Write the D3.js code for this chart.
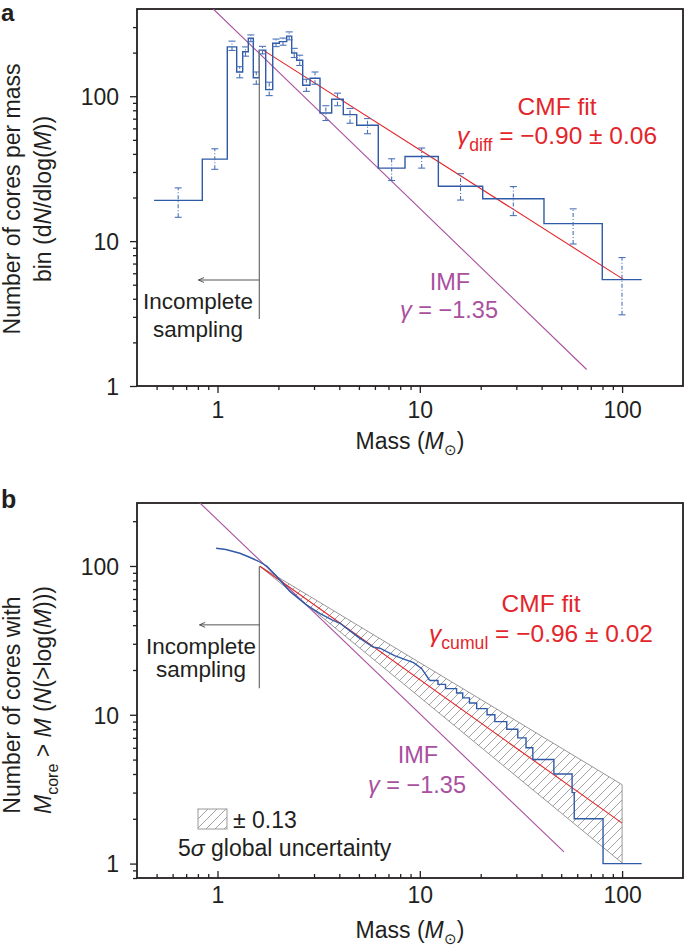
<!DOCTYPE html>
<html><head><meta charset="utf-8">
<script src="https://cdn.jsdelivr.net/npm/d3@7"></script>
<style>
body{margin:0;background:#fff;}
svg{display:block;font-family:"Liberation Sans",Arial,Helvetica,sans-serif;}
</style></head><body>
<svg id="chart" width="685" height="948"></svg>
<script>
// ---------- Panel a data : differential CMF histogram ----------
const massEdgesA = [0.486,0.841,1.118,1.244,1.332,1.420,1.503,1.609,1.731,1.875,2.021,2.198,2.327,2.464,2.637,2.866,3.211,3.668,4.185,4.876,6.234,8.451,12.35,20.46,41.1,79.8,125];
const countsA   = [19.1,36.8,219,147,203,251,134,208,111,232,238,260,199,177,119,133,76.6,95.3,74.7,63.0,31.9,38.4,23.9,19.6,13.2,5.42];
const errLowA   = [14.6,31.3,207,134,189,238,121,196,101,220,225,245,185,163,108,121,68,86,65.1,55.1,26.2,31.9,19.2,15.0,9.55,3.10];
const errHighA  = [23.3,43.4,240,160,219,265,147,221,125,248,252,278,214,192,131,147,86,105,82.3,70.1,37,43.9,29.2,23.8,16.7,7.70];
const fitMassA  = [1.68, 102];
const fitNA     = [208, 5.42];
const imfMassA  = [0.953, 66.8];
const imfNA     = [400, 1.30];
// ---------- Panel b data : cumulative CMF ----------
const cumMassB  = [0.985,1.10,1.29,1.45,1.585,1.75,1.95,2.28,2.76,3.2,3.68,4.03,5.0,5.88,6.35,7.5,9.31,10.2,11.2];
const cumNB     = [131.5,129,121.8,114,108,100,86,67.3,54.6,48,43.4,41.2,33,28.5,28,25,22.4,20.5,17];
const stepMassB = [11.2,12.3,13.4,15.2,16.3,17.6,19.1,21.5,23.5,26.9,30.5,33.5,36.2,46,56.6,58,80.5,125];
const stepNB    = [17,16,15,14,13,12,11,10,9,8,7,6,5,4,3,2,1,1];
const fitMassB  = [1.62, 100];
const fitNB     = [99.6, 1.87];
const bandUpperB = [99.6, 3.39];
const bandLowerB = [99.6, 1.01];
const imfMassB  = [0.819, 51.6];
const imfNB     = [265, 1.198];
// ---------- ticks ----------
const xTickLabels = [1, 10, 100];
const yTickLabels = [1, 10, 100];

const svg = d3.select("#chart");
const BLACK = "#231f20", RED = "#e3262b", PURPLE = "#a9509f", BLUE = "#2f5aa6", EBLUE = "#4b72b9";

const x = d3.scaleLog().domain([0.4, 200]).range([137, 683]);
const yA = d3.scaleLog().domain([1, 400]).range([386, 9]);
const yB = d3.scaleLog().domain([0.8, 265]).range([878, 503]);

const defs = svg.append("defs");
defs.append("clipPath").attr("id","clipA").append("rect").attr("x",137).attr("y",9).attr("width",546).attr("height",377);
defs.append("clipPath").attr("id","clipB").append("rect").attr("x",137).attr("y",503).attr("width",546).attr("height",375);
const pat = defs.append("pattern").attr("id","hatch").attr("patternUnits","userSpaceOnUse").attr("width",9).attr("height",9);
pat.append("path").attr("d","M-1,1 l2,-2 M0,9 l9,-9 M8,10 l2,-2").attr("stroke","#8c8c8c").attr("stroke-width",0.8);
defs.append("marker").attr("id","arrow").attr("viewBox","0 0 10 10").attr("refX",9).attr("refY",5)
  .attr("markerWidth",7).attr("markerHeight",7).attr("orient","auto")
  .append("path").attr("d","M1,1.5 L9,5 L1,8.5").attr("fill","none").attr("stroke","#444").attr("stroke-width",1.3);

function axes(y, x0, y0, y1, xInward, tickLabY, titleY) {
  const g = svg.append("g");
  const isMajor = d => xTickLabels.includes(d);
  const xt = x.ticks().filter(d => d > x.domain()[0] * 1.001 && d < x.domain()[1] * 0.999);
  const xa = d3.axisBottom(x).tickValues(xt).tickSizeOuter(0).tickFormat(d => isMajor(d) ? d3.format("d")(d) : "");
  const gx = g.append("g").attr("transform", `translate(0,${y0})`).call(xa);
  gx.select(".domain").remove();
  gx.selectAll(".tick line").attr("stroke", BLACK).attr("stroke-width", 1.3)
    .attr("y2", d => (isMajor(d) ? 7 : 4) * (xInward ? -1 : 1));
  gx.selectAll(".tick text").attr("y", tickLabY - y0).attr("dy", null).attr("fill", BLACK)
    .style("font-size", "23px").style("font-family", "Liberation Sans, Arial, sans-serif");
  const yt = y.ticks().filter(d => d >= y.domain()[0] * 0.999 && d < y.domain()[1] * 0.999);
  const ya = d3.axisLeft(y).tickValues(yt).tickSizeOuter(0).tickFormat(d => yTickLabels.includes(d) ? d3.format("d")(d) : "");
  const gy = g.append("g").attr("transform", `translate(${x0},0)`).call(ya);
  gy.select(".domain").remove();
  gy.selectAll(".tick line").attr("stroke", BLACK).attr("stroke-width", 1.3)
    .attr("x2", d => yTickLabels.includes(d) ? -7 : -4);
  gy.selectAll(".tick text").attr("x", -18).attr("dy", "0.36em").attr("fill", BLACK)
    .style("font-size", "23px").style("font-family", "Liberation Sans, Arial, sans-serif");
  g.append("rect").attr("x", x0).attr("y", y1).attr("width", x.range()[1] - x0).attr("height", y0 - y1)
    .attr("fill", "none").attr("stroke", BLACK).attr("stroke-width", 1.8);
  const t = g.append("text").attr("x", 410).attr("y", titleY).attr("text-anchor", "middle")
    .attr("fill", BLACK).style("font-size", "23px");
  t.append("tspan").text("Mass (");
  t.append("tspan").attr("font-style", "italic").text("M");
  t.append("tspan").attr("dy", 6).style("font-size", "15px").text("\u2299");
  t.append("tspan").attr("dy", -6).text(")");
}

// ================= Panel a =================
axes(yA, 137, 386, 9, false, 418, 449);
const pa = svg.append("g").attr("clip-path", "url(#clipA)");
const lineA = d3.line().x(d => x(d[0])).y(d => yA(d[1]));
pa.append("path").attr("d", lineA(imfMassA.map((m, i) => [m, imfNA[i]])))
  .attr("stroke", PURPLE).attr("stroke-width", 1.1).attr("fill", "none");
pa.append("path").attr("d", lineA(fitMassA.map((m, i) => [m, fitNA[i]])))
  .attr("stroke", RED).attr("stroke-width", 1.1).attr("fill", "none");
const histPts = countsA.map((n, i) => [massEdgesA[i], n]);
histPts.push([massEdgesA[massEdgesA.length - 1], countsA[countsA.length - 1]]);
pa.append("path").attr("d", d3.line().x(d => x(d[0])).y(d => yA(d[1])).curve(d3.curveStepAfter)(histPts))
  .attr("stroke", BLUE).attr("stroke-width", 1.4).attr("fill", "none");
const eb = pa.append("g").attr("stroke", EBLUE).attr("stroke-width", 1.1);
countsA.forEach((n, i) => {
  const xc = x(Math.sqrt(massEdgesA[i] * massEdgesA[i + 1]));
  eb.append("line").attr("x1", xc).attr("x2", xc).attr("y1", yA(errLowA[i])).attr("y2", yA(errHighA[i]))
    .attr("stroke-dasharray", "4,2,1,2");
  [errLowA[i], errHighA[i]].forEach(v => eb.append("line").attr("x1", xc - 3.5).attr("x2", xc + 3.5)
    .attr("y1", yA(v)).attr("y2", yA(v)));
});
svg.append("line").attr("x1", x(1.61)).attr("x2", x(1.61)).attr("y1", yA(208)).attr("y2", yA(2.9))
  .attr("stroke", "#777").attr("stroke-width", 1.3);
svg.append("line").attr("x1", x(1.61)).attr("x2", x(0.805)).attr("y1", yA(5.39)).attr("y2", yA(5.39))
  .attr("stroke", "#555").attr("stroke-width", 1).attr("marker-end", "url(#arrow)");
function txt(xp, yp, s, color, size) {
  return svg.append("text").attr("x", xp).attr("y", yp).attr("text-anchor", "middle")
    .attr("fill", color).style("font-size", size + "px").text(s);
}
txt(198, 309, "Incomplete", BLACK, 22.5);
txt(198, 337, "sampling", BLACK, 22.5);
txt(557, 115, "CMF fit", RED, 24.5);
function gammaLine(xp, yp, sub, val, color, size) {
  const t = svg.append("text").attr("x", xp).attr("y", yp).attr("text-anchor", "middle")
    .attr("fill", color).style("font-size", size + "px");
  t.append("tspan").attr("font-style", "italic").text("\u03b3");
  if (sub) {
    t.append("tspan").attr("dy", 7).style("font-size", (size * 0.72) + "px").text(sub);
    t.append("tspan").attr("dy", -7).text(" = " + val);
  } else t.append("tspan").text(" = " + val);
}
gammaLine(557, 144, "diff", "\u22120.90 \u00b1 0.06", RED, 24.5);
txt(450, 290, "IMF", PURPLE, 23.5);
gammaLine(449, 318, null, "\u22121.35", PURPLE, 23.5);

function ytitle(xp, yp, parts) {
  const t = svg.append("text").attr("transform", `translate(${xp},${yp}) rotate(-90)`)
    .attr("text-anchor", "middle").attr("fill", BLACK).style("font-size", "23px");
  parts.forEach(p => {
    const s = t.append("tspan").text(p.t);
    if (p.i) s.attr("font-style", "italic");
    if (p.dy) s.attr("dy", p.dy);
    if (p.fs) s.style("font-size", p.fs);
  });
}
ytitle(20, 199, [{t: "Number of cores per mass"}]);
ytitle(51, 199, [{t: "bin (d"}, {t: "N", i: 1}, {t: "/dlog("}, {t: "M", i: 1}, {t: "))"}]);
svg.append("text").attr("x", 1).attr("y", 21).attr("fill", BLACK).style("font-size", "24px")
  .style("font-weight", "bold").text("a");

// ================= Panel b =================
axes(yB, 137, 878, 503, true, 903, 938);
const pb = svg.append("g").attr("clip-path", "url(#clipB)");
const lineB = d3.line().x(d => x(d[0])).y(d => yB(d[1]));
const band = [[fitMassB[0], bandUpperB[0]], [fitMassB[1], bandUpperB[1]], [fitMassB[1], bandLowerB[1]], [fitMassB[0], bandLowerB[0]]];
pb.append("path").attr("d", lineB(band) + "Z").attr("fill", "url(#hatch)").attr("stroke", "#8c8c8c").attr("stroke-width", 0.9);
pb.append("path").attr("d", lineB(imfMassB.map((m, i) => [m, imfNB[i]])))
  .attr("stroke", PURPLE).attr("stroke-width", 1.1).attr("fill", "none");
pb.append("path").attr("d", lineB(fitMassB.map((m, i) => [m, fitNB[i]])))
  .attr("stroke", RED).attr("stroke-width", 1.1).attr("fill", "none");
pb.append("path").attr("d", lineB(cumMassB.map((m, i) => [m, cumNB[i]])))
  .attr("stroke", BLUE).attr("stroke-width", 1.4).attr("fill", "none");
pb.append("path").attr("d", d3.line().x(d => x(d[0])).y(d => yB(d[1])).curve(d3.curveStepAfter)(stepMassB.map((m, i) => [m, stepNB[i]])))
  .attr("stroke", BLUE).attr("stroke-width", 1.4).attr("fill", "none");
svg.append("line").attr("x1", x(1.61)).attr("x2", x(1.61)).attr("y1", yB(99.6)).attr("y2", yB(15.1))
  .attr("stroke", "#777").attr("stroke-width", 1.3);
svg.append("line").attr("x1", x(1.61)).attr("x2", x(0.815)).attr("y1", yB(40.2)).attr("y2", yB(40.2))
  .attr("stroke", "#555").attr("stroke-width", 1).attr("marker-end", "url(#arrow)");
txt(201, 654, "Incomplete", BLACK, 22.5);
txt(201, 677, "sampling", BLACK, 22.5);
txt(541, 612, "CMF fit", RED, 24.5);
gammaLine(541, 642, "cumul", "\u22120.96 \u00b1 0.02", RED, 24.5);
txt(418, 763, "IMF", PURPLE, 23.5);
gammaLine(417, 793, null, "\u22121.35", PURPLE, 23.5);
svg.append("rect").attr("x", 198).attr("y", 809).attr("width", 29).attr("height", 20)
  .attr("fill", "url(#hatch)").attr("stroke", "#999").attr("stroke-width", 1);
svg.append("text").attr("x", 233).attr("y", 828).attr("fill", BLACK).style("font-size", "23px").text("\u00b1 0.13");
const lg = svg.append("text").attr("x", 178).attr("y", 856).attr("fill", BLACK).style("font-size", "23px");
lg.append("tspan").text("5");
lg.append("tspan").attr("font-style", "italic").text("\u03c3");
lg.append("tspan").text(" global uncertainty");
ytitle(20, 705, [{t: "Number of cores with"}]);
ytitle(51, 700, [{t: "M", i: 1}, {t: "core", dy: 7, fs: "16px"}, {t: " > ", dy: -7}, {t: "M", i: 1}, {t: " ("}, {t: "N", i: 1}, {t: "(>log("}, {t: "M", i: 1}, {t: ")))"}]);
svg.append("text").attr("x", 1).attr("y", 508).attr("fill", BLACK).style("font-size", "25px")
  .style("font-weight", "bold").text("b");
</script>
</body></html>
